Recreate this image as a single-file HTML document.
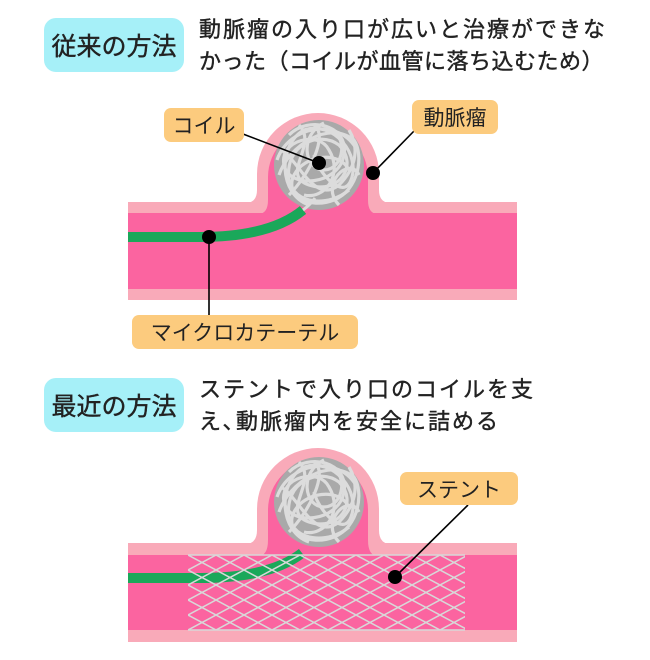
<!DOCTYPE html>
<html><head><meta charset="utf-8"><style>
body{margin:0;width:650px;height:660px;background:#fff;overflow:hidden;position:relative;font-family:"Liberation Sans","Noto Sans CJK JP",sans-serif;}
.h{position:absolute;background:#a6f0f8;border-radius:12px;font-size:25px;color:#222;display:flex;align-items:center;justify-content:center;-webkit-text-stroke:0.4px #222;}
.t{position:absolute;font-size:22px;letter-spacing:2px;line-height:32px;color:#222;white-space:nowrap;-webkit-text-stroke:0.4px #222;}
svg text{-webkit-text-stroke:0.4px #222;}
</style></head><body>
<div class="h" style="left:44px;top:18px;width:140px;height:54px">従来の方法</div>
<div class="t" style="left:199px;top:14px">動脈瘤の入り口が広いと治療ができな<br><span style="letter-spacing:0.5px">かった（コイルが血管に落ち込むため）</span></div>
<div class="h" style="left:44px;top:378px;width:140px;height:54px">最近の方法</div>
<div class="t" style="left:199px;top:374px">ステントで入り口のコイルを支<br>え､動脈瘤内を安全に詰める</div>
<svg width="650" height="660" style="position:absolute;left:0;top:0" font-family="Liberation Sans, Noto Sans CJK JP, sans-serif">
<defs>
<g id="coil" fill="none" stroke="#dcdcdc" stroke-width="3.2">
<circle cx="0" cy="0" r="45" fill="#a9a9a9" stroke="none"/>
<path d="M-30,-30 C-10,-50 30,-40 25,-10 C20,20 -30,25 -35,0 C-40,-25 0,-35 10,-15 C25,10 5,35 -15,30"/>
<path d="M-40,10 C-30,-20 10,-45 35,-25 C45,-10 40,25 15,35 C-10,45 -35,30 -25,10 C-15,-10 20,-15 30,5"/>
<path d="M-20,-40 C0,-20 -40,10 -10,20 C20,30 40,0 20,-20 C0,-35 -35,-20 -30,15 C-25,40 10,42 30,25"/>
<path d="M5,-42 C-20,-30 -15,5 5,5 C25,5 30,-30 10,-35 M-38,-15 C-20,-5 -5,40 20,20 C35,5 42,-15 30,-35"/>
<path d="M-10,40 C-40,30 -42,-20 -15,-35 C15,-45 42,-10 32,15 C25,35 0,10 -5,-10"/>
<path d="M-42,-5 C-30,-40 20,-48 38,-15 M-30,30 C-10,10 10,-30 -5,-40 M20,40 C0,20 30,-10 40,10"/>
</g>
<pattern id="mesh" width="28" height="15" patternUnits="userSpaceOnUse" x="188" y="555">
<path d="M0,0 L28,15 M28,0 L0,15" stroke="#d8d8d8" stroke-width="1.5"/>
</pattern>
</defs>
<rect x="128" y="202" width="389" height="98" fill="#f9aab9"/>
<path d="M245,203 Q257,203 257,190 L257,174 A61,61 0 0 1 379,174 L379,190 Q379,203 391,203 Z" fill="#f9aab9"/>
<rect x="128" y="213" width="389" height="76" fill="#fb64a0"/>
<path d="M258,214 Q268,214 268,200 L268,177 A50,50 0 0 1 368,177 L368,200 Q368,214 378,214 Z" fill="#fb64a0"/>
<use href="#coil" x="319" y="165"/>
<path d="M128,237 L200,237 Q270,237 303,210" stroke="#1aa85a" stroke-width="10" fill="none"/>
<path d="M303,210 Q310,205 315,198" stroke="#dcdcdc" stroke-width="3" fill="none"/>
<rect x="128" y="543" width="389" height="99" fill="#f9aab9"/>
<path d="M245,544 Q257,544 257,530 L257,509 A61,61 0 0 1 379,509 L379,530 Q379,544 391,544 Z" fill="#f9aab9"/>
<rect x="128" y="555" width="389" height="75" fill="#fb64a0"/>
<path d="M258,556 Q268,556 268,540 L268,510 A50,50 0 0 1 368,510 L368,540 Q368,556 378,556 Z" fill="#fb64a0"/>
<use href="#coil" x="319" y="502"/>
<path d="M128,578 L200,578 Q270,578 302,553" stroke="#1aa85a" stroke-width="10" fill="none"/>
<rect x="188" y="555" width="277" height="75" fill="url(#mesh)"/>
<path d="M188,555 H465 M188,630 H465" stroke="#d8d8d8" stroke-width="1.5"/>
<g stroke="#000" stroke-width="1.6">
<line x1="243" y1="134" x2="319" y2="163"/>
<line x1="415" y1="130" x2="373" y2="173"/>
<line x1="209" y1="237" x2="209" y2="318"/>
<line x1="468" y1="505" x2="395" y2="577"/>
</g>
<g fill="#000"><circle cx="319" cy="163" r="7"/><circle cx="373" cy="173" r="7"/><circle cx="209" cy="237" r="7"/><circle cx="395" cy="577" r="7"/></g>
<g fill="#fccb7e">
<rect x="164" y="108" width="80" height="34" rx="7"/>
<rect x="412" y="100" width="86" height="34" rx="7"/>
<rect x="132" y="315" width="226" height="34" rx="7"/>
<rect x="400" y="472" width="118" height="33" rx="7"/>
</g>
<g font-size="21" fill="#222" text-anchor="middle">
<text x="204" y="133">コイル</text>
<text x="455" y="125">動脈瘤</text>
<text x="245" y="340">マイクロカテーテル</text>
<text x="459" y="497">ステント</text>
</g>
</svg>
</body></html>
